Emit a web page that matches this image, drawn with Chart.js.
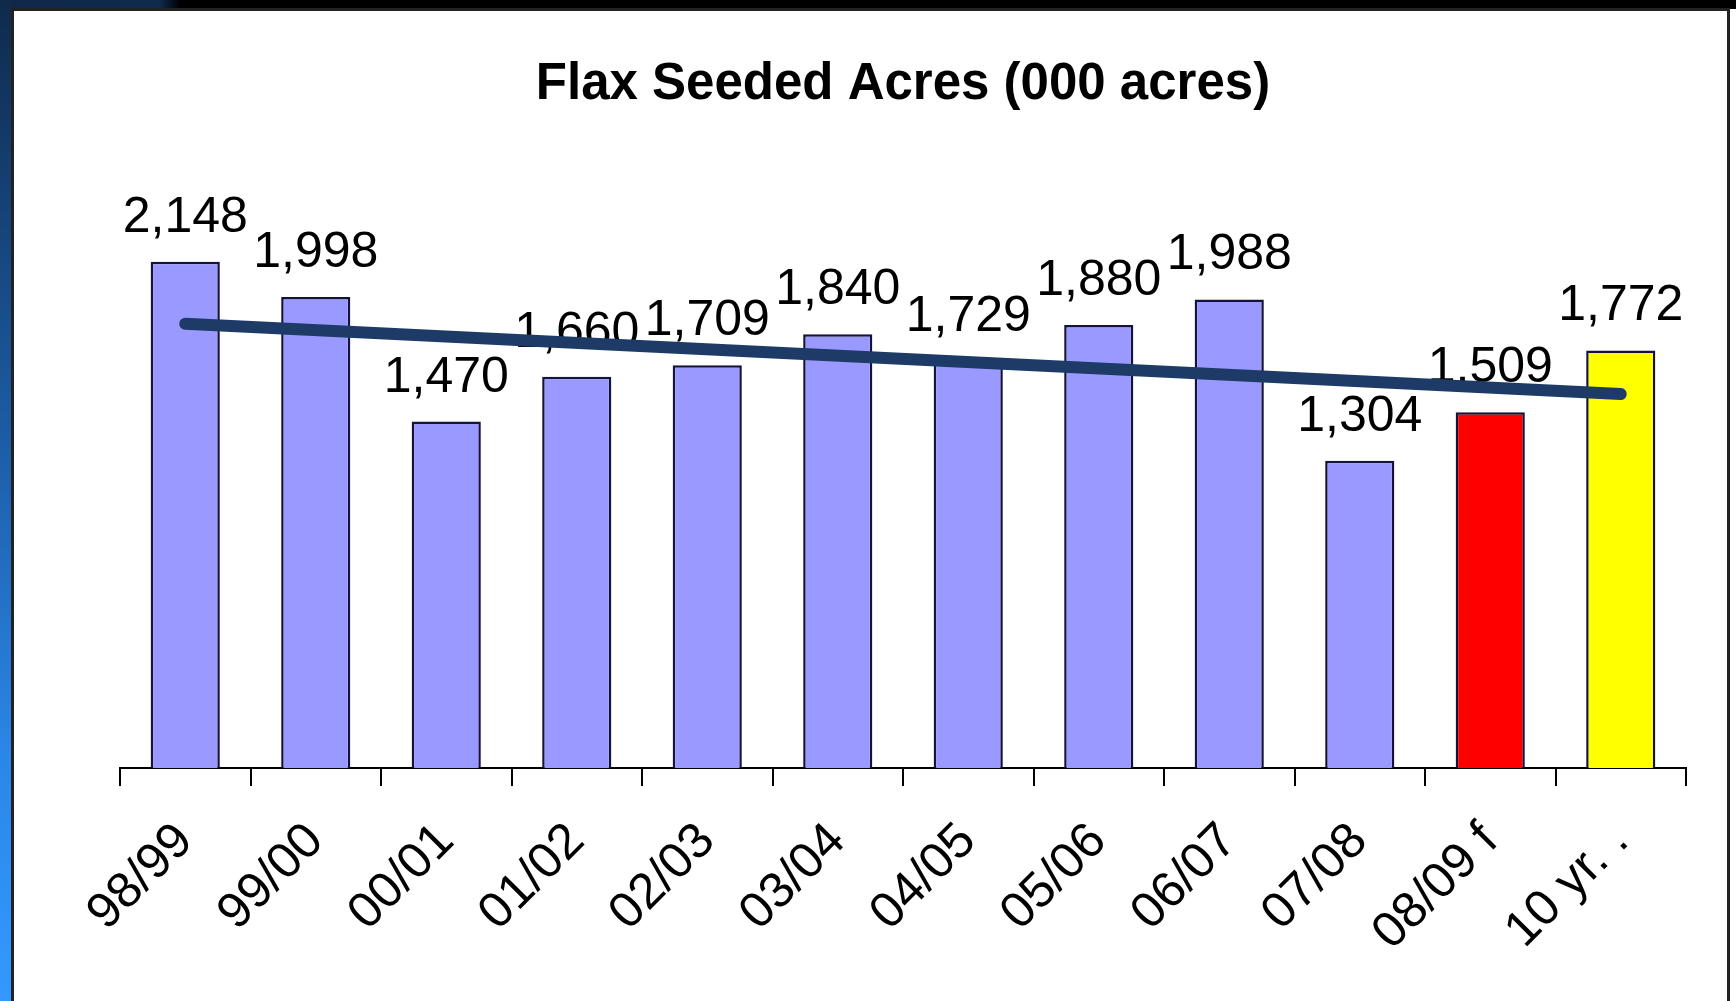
<!DOCTYPE html>
<html>
<head>
<meta charset="utf-8">
<title>Flax Seeded Acres</title>
<script src="https://cdn.jsdelivr.net/npm/chart.js@4.4.1/dist/chart.umd.min.js"></script>
<style>
    html, body { margin: 0; padding: 0; }
    body { width: 1736px; height: 1001px; overflow: hidden; position: relative; background: #fff; }
    .top-strip { position: absolute; left: 0; top: 0; width: 1736px; height: 9px;
        background: linear-gradient(to right, #10284a 0, #0f2a4c 160px, #000 180px, #000 100%); }
    .left-strip { position: absolute; left: 0; top: 0; width: 11px; height: 1001px;
        background: linear-gradient(to bottom, #0f2a4c 0%, #1d5ea8 45%, #2b86e6 75%, #3399ff 100%); }
    .box { position: absolute; left: 11px; top: 8px; width: 1713px; height: 1010px;
        border: 3px solid #222; background: #fff; }
    #chart { position: absolute; left: 0; top: 0; }
</style>
</head>
<body>
<div class="top-strip"></div>
<div class="left-strip"></div>
<div class="box"></div>
<canvas id="chart" width="1736" height="1001"></canvas>

<script>
// ── Data ────────────────────────────────────────────────
const seasons = ['98/99', '99/00', '00/01', '01/02', '02/03', '03/04',
                 '04/05', '05/06', '06/07', '07/08', '08/09 f', '10 yr. .'];
const seededAcres = [2148, 1998, 1470, 1660, 1709, 1840, 1729, 1880, 1988, 1304, 1509, 1772];
// trend line: start and end only
const trendLine = [1885, null, null, null, null, null, null, null, null, null, null, 1587];
const yTicks = [0, 2500];

const barColors = ['#9999ff', '#9999ff', '#9999ff', '#9999ff', '#9999ff', '#9999ff',
                   '#9999ff', '#9999ff', '#9999ff', '#9999ff', '#ff0000', '#ffff00'];

const FONT = '"Liberation Sans", Arial, Helvetica, sans-serif';

// ── Value labels above bars (drawn before the trend line) ─
const valueLabels = {
    id: 'valueLabels',
    afterDatasetDraw(chart, args) {
        if (args.meta.type !== 'bar') return;
        const ctx = chart.ctx;
        ctx.save();
        ctx.font = '50px ' + FONT;
        ctx.fillStyle = '#000';
        ctx.textAlign = 'center';
        ctx.textBaseline = 'alphabetic';
        args.meta.data.forEach((bar, i) => {
            ctx.fillText(seededAcres[i].toLocaleString('en-US'), bar.x, bar.y - 30);
        });
        ctx.restore();
    }
};

new Chart(document.getElementById('chart'), {
    data: {
        labels: seasons,
        datasets: [
            {
                type: 'bar',
                data: seededAcres,
                backgroundColor: barColors,
                borderColor: '#141438',
                borderWidth: 2.5,
                barPercentage: 0.53,
                categoryPercentage: 1,
                order: 1
            },
            {
                type: 'line',
                data: trendLine,
                spanGaps: true,
                borderColor: '#1d3b66',
                borderWidth: 12,
                borderCapStyle: 'round',
                pointRadius: 0,
                fill: false,
                order: 0
            }
        ]
    },
    options: {
        responsive: false,
        animation: false,
        layout: { padding: { top: 0, left: 120, right: 50, bottom: 0 } },
        plugins: {
            legend: { display: false },
            tooltip: { enabled: false },
            title: {
                display: true,
                text: 'Flax Seeded Acres (000 acres)',
                color: '#000',
                font: { family: FONT, size: 51, weight: 'bold' },
                padding: { top: 54, bottom: 63.6 }
            }
        },
        scales: {
            y: {
                display: false,
                min: yTicks[0],
                max: yTicks[1]
            },
            x: {
                offset: true,
                afterFit: scale => { scale.height = 233; },
                border: { color: '#000', width: 2 },
                grid: {
                    offset: true,
                    drawOnChartArea: false,
                    color: '#000',
                    lineWidth: 2,
                    tickLength: 18
                },
                ticks: {
                    autoSkip: false,
                    maxRotation: 45,
                    minRotation: 45,
                    padding: 26,
                    color: '#000',
                    font: { family: FONT, size: 50 }
                }
            }
        }
    },
    plugins: [valueLabels]
});
</script>
</body>
</html>
